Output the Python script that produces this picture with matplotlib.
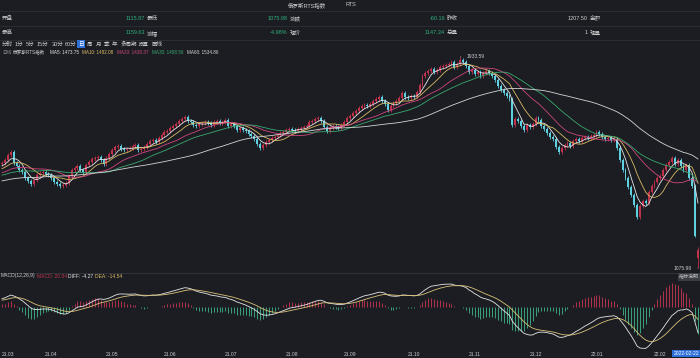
import numpy as np
import pandas as pd
import matplotlib
matplotlib.use('Agg')
import matplotlib.pyplot as plt
from matplotlib.lines import Line2D

plt.rcParams['font.family'] = ['Liberation Sans', 'Noto Sans CJK SC', 'DejaVu Sans']

#############################################################
########################### DATOS ###########################
#############################################################

months = ['21.03', '21.04', '21.05', '21.06', '21.07', '21.08',
          '21.09', '21.10', '21.11', '21.12', '22.01', '22.02']

# cierres previos (dic 2020 - feb 2021), solo para calentar MA / MACD
pre_close = [1380, 1386, 1392, 1388, 1395, 1401, 1398, 1404, 1410, 1407,
             1415, 1421, 1426, 1419, 1412, 1405, 1398, 1392, 1387, 1393,
             1399, 1406, 1412, 1409, 1416, 1422, 1418, 1411, 1417, 1420,
             1425, 1431, 1428, 1434, 1440, 1436, 1430, 1424, 1429, 1435,
             1441, 1446, 1438, 1432, 1437, 1444, 1450, 1456, 1452, 1458,
             1463, 1458, 1466, 1472, 1469, 1477, 1485, 1481, 1490, 1497]

close_2103 = [1503, 1515, 1535, 1547, 1503, 1491, 1474, 1466, 1442, 1430,
              1418, 1434, 1454, 1462, 1466, 1458, 1454]
close_2104 = [1442, 1426, 1418, 1409, 1413, 1422, 1450, 1474, 1483, 1491,
              1474, 1466, 1495, 1507, 1519, 1523, 1527, 1515, 1499, 1523, 1539]
close_2105 = [1556, 1568, 1572, 1560, 1556, 1560, 1564, 1572, 1576, 1556,
              1560, 1568, 1580, 1592, 1596, 1588, 1604, 1617, 1629, 1633]
close_2106 = [1645, 1653, 1661, 1673, 1682, 1690, 1673, 1669, 1657, 1653,
              1661, 1665, 1669, 1665, 1657, 1669, 1673, 1665, 1669, 1678, 1653]
close_2107 = [1661, 1653, 1637, 1645, 1637, 1633, 1621, 1612, 1600, 1580,
              1564, 1576, 1588, 1596, 1604, 1608, 1617, 1625, 1629, 1637, 1641]
close_2108 = [1637, 1633, 1641, 1645, 1649, 1653, 1669, 1673, 1682, 1686,
              1673, 1649, 1633, 1645, 1653, 1649, 1645, 1657, 1669, 1686]
close_2109 = [1694, 1706, 1714, 1726, 1734, 1738, 1734, 1743, 1755, 1763,
              1771, 1755, 1743, 1718, 1734, 1747, 1755, 1767, 1787, 1771,
              1767, 1775]
close_2110 = [1771, 1791, 1820, 1856, 1869, 1877, 1885, 1873, 1881, 1893,
              1897, 1901, 1905, 1913, 1893, 1905, 1921, 1913, 1897, 1873, 1881]
close_2111 = [1864, 1873, 1856, 1869, 1877, 1869, 1856, 1840, 1816, 1799,
              1787, 1775, 1763, 1657, 1682, 1673, 1653, 1637, 1657, 1649, 1661]
close_2112 = [1686, 1678, 1653, 1641, 1625, 1608, 1600, 1568, 1547, 1564,
              1576, 1584, 1572, 1592, 1600, 1592, 1604, 1608, 1604, 1612, 1617]
close_2201 = [1629, 1621, 1608, 1600, 1604, 1596, 1600, 1564, 1515, 1474,
              1442, 1405, 1373, 1332, 1283, 1328, 1348, 1340, 1385, 1409,
              1426, 1442]
close_2202 = [1450, 1474, 1495, 1507, 1523, 1499, 1515, 1491, 1474, 1495,
              1442, 1409, 1207.50, 1147.34]

# ultimo dia (cabecera)
last_open, last_high, last_low, last_close = 1115.87, 1159.63, 1075.98, 1147.34
prev_close = 1207.50
volume = 1
peak_high = 1933.59

ma_periods = [5, 10, 20, 30, 60]
ma_label_vals = [1473.75, 1482.08, 1438.37, 1458.56, 1534.86]
macd_label_vals = [20.54, -4.27, -14.54]   # MACD, DIFF, DEA
cursor_date = '2022-02-22'

toolbar = ['分时', '1分', '5分', '15分', '30分', '60分', '日', '周', '月', '季',
           '年', '多周期', '设置', '画线']

#############################################################
######################### CALCULOS ##########################
#############################################################

month_data = [close_2103, close_2104, close_2105, close_2106, close_2107, close_2108,
              close_2109, close_2110, close_2111, close_2112, close_2201, close_2202]
close = np.array(sum(month_data, []), dtype=float)
N = len(close)
x = np.arange(N)
month_start = np.cumsum([0] + [len(m) for m in month_data[:-1]])

opens = np.r_[pre_close[-1], close[:-1]]
opens[-1] = last_open
wick = 7.0
highs = np.maximum(opens, close) + wick
lows = np.minimum(opens, close) - wick
ipk = int(np.argmax(close))
highs[ipk] = peak_high
highs[-1] = last_high
lows[-1] = last_low

serie = pd.Series(list(pre_close) + list(close))
mas = [serie.rolling(p).mean().values[-N:] for p in ma_periods]
ema12 = serie.ewm(span=12, adjust=False).mean()
ema26 = serie.ewm(span=26, adjust=False).mean()
diff = (ema12 - ema26)
dea = diff.ewm(span=9, adjust=False).mean()
macd = 2 * (diff - dea)
diff, dea, macd = diff.values[-N:], dea.values[-N:], macd.values[-N:]

#############################################################
########################## GRAFICO ##########################
#############################################################

BG = '#1b1d22'
TXT = '#c9cacc'
GRAY = '#8d8f94'
GREEN = '#2fae78'
RED = '#c0324c'
CYAN = '#5fd0e0'
SEP = '#2c2f35'
FS = 3.6      # texto pequeño (ejes, MACD)
FSH = 4.0     # cabecera y barra
FSM = 3.3     # fila de medias
ma_colors = ['#e6e6e6', '#d9b964', '#cf4680', '#3ba96f', '#d4d4d4']

W, H = 700, 358
fig = plt.figure(figsize=(W / 100, H / 100), dpi=100, facecolor=BG)


def fy(y):
    return 1 - y / H


def ftxt(px, py, s, **kw):
    kw.setdefault('fontsize', FS)
    kw.setdefault('va', 'center')
    kw.setdefault('color', TXT)
    return fig.text(px / W, fy(py), s, **kw)


def hline(py, color=SEP):
    fig.add_artist(Line2D([0, 1], [fy(py), fy(py)], transform=fig.transFigure,
                          color=color, lw=0.6))


# cabecera
ftxt(288, 5, '俄罗斯RTS指数', fontsize=FSH)
ftxt(345, 5, 'RTS', fontsize=FSH)
for yy in [11, 25.5, 39.5]:
    hline(yy)

lab_x = [2, 147, 290, 447, 590]
val_x = [145, 288, 445, 588]
row1 = ['开盘', '最低', '涨跌', '昨收', '金额']
row2 = ['最高', '涨幅', '现价', '总量', '现量']
chg = last_close - prev_close
vals1 = ['%.2f' % last_open, '%.2f' % last_low, '%.2f' % chg, '%.2f' % prev_close]
vals2 = ['%.2f' % last_high, '%.2f%%' % (chg / prev_close * 100), '%.2f' % last_close, '%d' % volume]
col1 = [GREEN, GREEN, GREEN, TXT]
col2 = [GREEN, GREEN, GREEN, TXT]
for i in range(5):
    ftxt(lab_x[i], 18, row1[i], fontsize=FSH)
    ftxt(lab_x[i], 33, row2[i], fontsize=FSH)
for i in range(4):
    ftxt(val_x[i], 18, vals1[i], ha='right', color=col1[i], fontsize=FSH)
    ftxt(val_x[i], 33, vals2[i], ha='right', color=col2[i], fontsize=FSH)

# barra de herramientas
tb_x = [2, 15, 26, 37, 52, 65, 78.5, 87, 95.5, 104, 112, 121, 138, 152]
for s, px in zip(toolbar, tb_x):
    if s == '日':
        ftxt(px, 44, s, color='white', fontsize=FSH,
             bbox=dict(boxstyle='square,pad=0.25', fc='#2f6fd8', ec='none'))
    else:
        ftxt(px, 44, s, fontsize=FSH)

# fila de medias
ftxt(2, 52, '日线', color=GRAY, fontsize=FSM)
ftxt(13, 52, '俄罗斯RTS指数', fontsize=FSM)
ma_x = [50, 82, 117, 152, 187]
for p, v, c, px in zip(ma_periods, ma_label_vals, ma_colors, ma_x):
    ftxt(px, 52, 'MA%d: %.2f' % (p, v), color=c, fontsize=FSM)

# panel principal
ax = fig.add_axes([0, fy(272), 1, (272 - 55) / H])
ax.set_facecolor(BG)
up = close >= opens
ccol = np.where(up, RED, CYAN)
ax.vlines(x, lows, highs, colors=ccol, lw=0.6, zorder=2)
body = np.maximum(np.abs(close - opens), 1.5)
ax.bar(x, body, bottom=np.minimum(opens, close), width=0.66, color=ccol,
       lw=0, zorder=2)
for m, c in zip(mas, ma_colors):
    ax.plot(x, m, color=c, lw=0.6, zorder=3)

ax.annotate('%.2f' % peak_high, xy=(ipk, peak_high), xytext=(ipk + 2.2, peak_high),
            fontsize=FS, color=TXT, va='center',
            arrowprops=dict(arrowstyle='-', color=TXT, lw=0.4))
ax.annotate('%.2f' % last_low, xy=(N - 1, last_low), xytext=(N - 3, last_low),
            fontsize=FS, color=TXT, va='center', ha='right',
            arrowprops=dict(arrowstyle='-', color=TXT, lw=0.4))
ax.set_xlim(-0.7, N - 0.3)
ax.set_ylim(last_low - 16, peak_high + 8)
ax.axis('off')

hline(272.5, '#34373d')
ftxt(699, 276.5, '指标说明', color=TXT, ha='right',
     bbox=dict(boxstyle='square,pad=0.3', fc='#3a3d44', ec='none'))

# panel MACD
ftxt(1, 276, 'MACD(12,26,9)', color=TXT)
ftxt(37, 276, 'MACD: %.2f' % macd_label_vals[0], color=RED)
ftxt(68, 276, 'DIFF: %.2f' % macd_label_vals[1], color='#e6e6e6')
ftxt(95, 276, 'DEA: %.2f' % macd_label_vals[2], color='#d9b964')

ax2 = fig.add_axes([0, fy(350), 1, (350 - 281) / H])
ax2.set_facecolor(BG)
mcol = np.where(macd >= 0, '#b3334d', '#3aa37a')
ax2.vlines(x, 0, macd, colors=mcol, lw=0.7)
ax2.plot(x, diff, color='#e6e6e6', lw=0.6)
ax2.plot(x, dea, color='#d9c27a', lw=0.6)
lo = min(diff.min(), dea.min(), macd.min())
hi = max(diff.max(), dea.max(), macd.max())
ax2.set_ylim(lo * 1.04, hi * 1.08)
ax2.set_xlim(-0.7, N - 0.3)
for s in ax2.spines.values():
    s.set_visible(False)
ax2.set_yticks([])
ax2.set_xticks(month_start)
ax2.set_xticklabels(months)
ax2.tick_params(axis='x', length=0, pad=1.5, labelsize=FS, labelcolor=TXT)
ax2.get_xticklabels()[0].set_ha('left')

ftxt(699, 353.5, cursor_date, color='white', ha='right',
     bbox=dict(boxstyle='square,pad=0.25', fc='#2f6fd8', ec='none'))

plt.savefig('out.png', dpi=100, facecolor=BG)
